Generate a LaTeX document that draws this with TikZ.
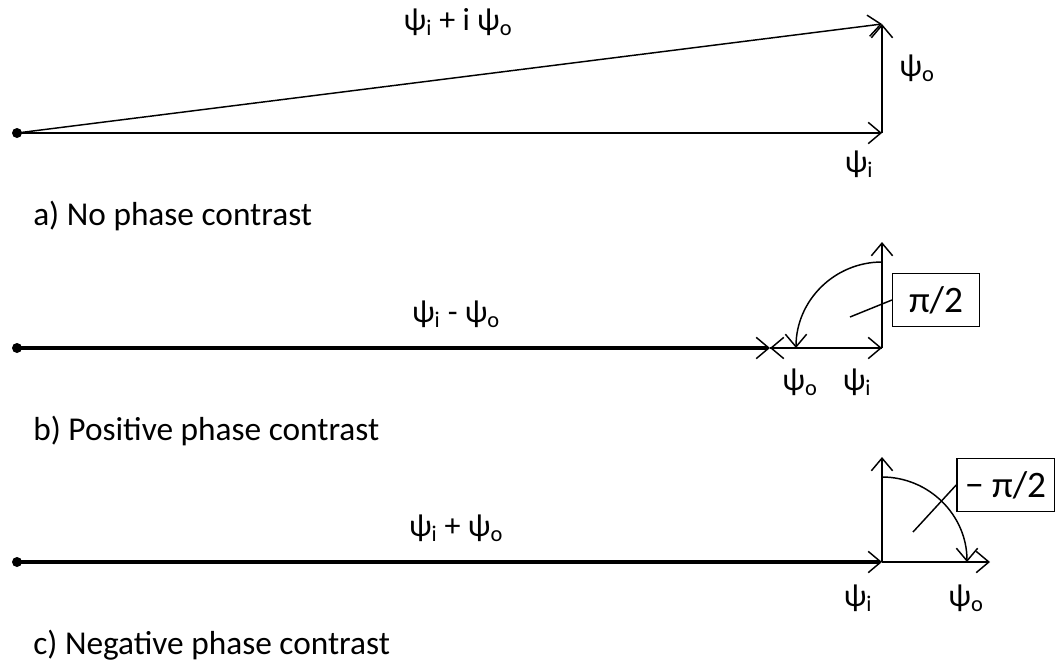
\documentclass[tikz,border=0pt]{standalone}
\usepackage{fontspec}
\setmainfont{Carlito}
\usetikzlibrary{arrows.meta}

\tikzset{
  vec/.style={line width=1.1pt,-{Straight Barb[length=9.5pt,width=16pt,line width=1.1pt]}},
  res/.style={vec,line width=3.4pt},
  lbl/.style={font=\fontsize{24}{28}\selectfont,inner sep=0pt},
  captxt/.style={font=\fontsize{25}{29}\selectfont,anchor=west,inner sep=0pt},
  phasebox/.style={draw,line width=1.1pt,font=\fontsize{28}{32}\selectfont,minimum height=40pt,inner xsep=6pt},
  origin/.style={circle,fill,inner sep=0pt,minimum size=7.5pt}
}
\newcommand{\psisub}[1]{ψ\textsubscript{#1}}

\begin{document}
\begin{tikzpicture}[x=0.75pt,y=0.75pt,yscale=-1,xscale=1]
\useasboundingbox (0,0) rectangle (1057,664);

%a) no phase contrast
\node [origin] (Oa) at (17,133) {};
\coordinate (Ai) at (882,133);
\coordinate (Atop) at (882,24);
\draw [vec] (Oa.center) -- (Ai) ;
\draw [vec] (Ai) -- (Atop) ;
\draw [vec] (Oa.center) -- (Atop) ;
% Text Node
\node [lbl] (Asum) at (458,22) {\psisub{i} + i \psisub{o}};
\node [lbl] (Ao) at (917,68) {\psisub{o}};
\node [lbl] (Ail) at (859,164) {\psisub{i}};
\node [captxt] (capA) at (33,216) {a) No phase contrast};

%b) positive phase contrast
\node [origin] (Ob) at (17,348) {};
\coordinate (Bi) at (882,348);
\coordinate (Bo) at (770,348);
\coordinate (Btop) at (882,242);
\coordinate (Barc) at (882,262);
\draw [res] (Ob.center) -- (Bo) ;
\draw [vec] (Bi) -- (Bo) ;
\draw [vec] (Bo) -- (Bi) ;
\draw [vec] (Bi) -- (Btop) ;
\draw [vec] (Barc) arc [start angle=-90,end angle=-180,radius=86] ;
\node [phasebox,minimum width=65pt] (Bbox) at (936,300) {π/2};
\coordinate (Bpt) at (850,317);
\draw [line width=1.1pt] (Bpt) -- (Bbox.west) ;
% Text Node
\node [lbl] (Bdiff) at (456,314) {\psisub{i} - \psisub{o}};
\node [lbl] (Bol) at (800,382) {\psisub{o}};
\node [lbl] (Bil) at (857,382) {\psisub{i}};
\node [captxt] (capB) at (33,431) {b) Positive phase contrast};

%c) negative phase contrast
\node [origin] (Oc) at (17,562) {};
\coordinate (Ci) at (882,562);
\coordinate (Co) at (990,562);
\coordinate (Ctop) at (882,457);
\coordinate (Carc) at (882,477);
\draw [res] (Oc.center) -- (Ci) ;
\draw [vec] (Ci) -- (Co) ;
\draw [vec] (Ci) -- (Ctop) ;
\draw [vec] (Carc) arc [start angle=-90,end angle=0,radius=85] ;
\node [phasebox,minimum width=73pt,anchor=east] (Cbox) at (1055,485) {− π/2};
\coordinate (Cpt) at (913,532);
\draw [line width=1.1pt] (Cpt) -- (Cbox.west) ;
% Text Node
\node [lbl] (Csum) at (456,528) {\psisub{i} + \psisub{o}};
\node [lbl] (Cil) at (858,598) {\psisub{i}};
\node [lbl] (Col) at (966,598) {\psisub{o}};
\node [captxt] (capC) at (33,645) {c) Negative phase contrast};

\end{tikzpicture}
\end{document}
